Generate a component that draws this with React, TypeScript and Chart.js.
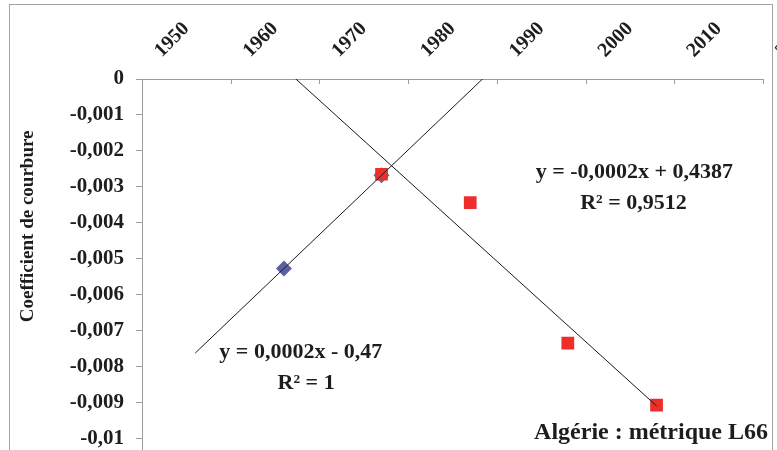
import React, { useEffect, useRef } from 'react';
import { Chart, registerables } from 'chart.js';

Chart.register(...registerables);

// ---- data ----
const X_TICKS = [1950, 1960, 1970, 1980, 1990, 2000, 2010, 2020];
const Y_MIN = -0.011;
const Y_MAX = 0;
const Y_STEP = 0.001;

const BLUE_YEARS = [1966, 1977];
const BLUE_VALUES = [-0.00527, -0.00268];
const RED_YEARS = [1977, 1987, 1998, 2008];
const RED_VALUES = [-0.00265, -0.00344, -0.00735, -0.00907];

const BLUE_TREND_SPAN = [1956, 1992];
const RED_TREND_SPAN = [1960, 2008];

const ANNOTATION_TEXTS = ['y = 0,0002x - 0,47', 'R² = 1', 'y = -0,0002x + 0,4387', 'R² = 0,9512'];
const ANNOTATION_X = [1967.9, 1968.5, 2005.5, 2005.4];
const ANNOTATION_Y = [-0.00759, -0.00846, -0.00259, -0.00345];

const Y_TITLE = 'Coefficient de courbure';
const CAPTION = 'Algérie : métrique L66';

// ---- styles ----
const TEXT_COLOR = '#1d1d1b';
const AXIS_COLOR = '#9c9c9c';
const BLUE = '#5b5fa3';
const RED = '#ee2e2b';
const FONT_FAMILY = '"Liberation Serif", "Times New Roman", serif';

function linearFit(xs: number[], ys: number[]) {
  const n = xs.length;
  const mx = xs.reduce((a, b) => a + b, 0) / n;
  const my = ys.reduce((a, b) => a + b, 0) / n;
  let sxy = 0;
  let sxx = 0;
  for (let i = 0; i < n; i++) {
    sxy += (xs[i] - mx) * (ys[i] - my);
    sxx += (xs[i] - mx) * (xs[i] - mx);
  }
  const slope = sxy / sxx;
  return { slope, intercept: my - slope * mx };
}

function trendPoints(xs: number[], ys: number[], span: number[]) {
  const { slope, intercept } = linearFit(xs, ys);
  return span.map((x) => ({ x, y: slope * x + intercept }));
}

function fmtY(v: number) {
  const r = Number(v.toFixed(4));
  if (r === 0) return '0';
  return String(r).replace('.', ',');
}

const overlayPlugin = {
  id: 'overlay',
  afterDraw(chart: any) {
    const { ctx, chartArea, scales } = chart;
    const xs = scales.x;
    const ys = scales.y;
    ctx.save();

    // inward tick marks of top axis
    ctx.strokeStyle = AXIS_COLOR;
    ctx.lineWidth = 1;
    X_TICKS.forEach((v) => {
      const px = Math.round(xs.getPixelForValue(v)) + 0.5;
      ctx.beginPath();
      ctx.moveTo(px, chartArea.top);
      ctx.lineTo(px, chartArea.top + 5);
      ctx.stroke();
    });

    // rotated x labels
    ctx.fillStyle = TEXT_COLOR;
    ctx.font = `bold 20px ${FONT_FAMILY}`;
    ctx.textAlign = 'left';
    ctx.textBaseline = 'middle';
    X_TICKS.forEach((v) => {
      const px = xs.getPixelForValue(v);
      ctx.save();
      ctx.translate(px + 16, chartArea.top - 25);
      ctx.rotate(-Math.PI / 4);
      ctx.fillText(String(v), 0, 0);
      ctx.restore();
    });

    // y title
    ctx.save();
    ctx.font = `bold 19px ${FONT_FAMILY}`;
    ctx.textAlign = 'center';
    ctx.textBaseline = 'middle';
    ctx.translate(28, ys.getPixelForValue(-0.0041));
    ctx.rotate(-Math.PI / 2);
    ctx.fillText(Y_TITLE, 0, 0);
    ctx.restore();

    // trendline equations
    ctx.font = `bold 22px ${FONT_FAMILY}`;
    ctx.textAlign = 'center';
    ctx.textBaseline = 'middle';
    ANNOTATION_TEXTS.forEach((t, i) => {
      ctx.fillText(t, xs.getPixelForValue(ANNOTATION_X[i]), ys.getPixelForValue(ANNOTATION_Y[i]));
    });

    // caption
    ctx.font = `bold 24px ${FONT_FAMILY}`;
    ctx.textAlign = 'right';
    ctx.fillText(CAPTION, chart.width - 9, ys.getPixelForValue(-0.00985));

    ctx.restore();
  },
};

export default function App() {
  const canvasRef = useRef<HTMLCanvasElement | null>(null);

  useEffect(() => {
    if (!canvasRef.current) return;
    const chart = new Chart(canvasRef.current, {
      type: 'scatter',
      data: {
        datasets: [
          {
            label: 'Tendance 1',
            data: trendPoints(BLUE_YEARS, BLUE_VALUES, BLUE_TREND_SPAN),
            showLine: true,
            borderColor: '#1a1a1a',
            borderWidth: 1,
            pointRadius: 0,
            order: 0,
          },
          {
            label: 'Tendance 2',
            data: trendPoints(RED_YEARS, RED_VALUES, RED_TREND_SPAN),
            showLine: true,
            borderColor: '#1a1a1a',
            borderWidth: 1,
            pointRadius: 0,
            order: 0,
          },
          {
            label: 'Série 2',
            data: RED_YEARS.map((x, i) => ({ x, y: RED_VALUES[i] })),
            pointStyle: 'rect',
            pointRadius: 9,
            backgroundColor: RED,
            borderColor: RED,
            borderWidth: 0,
            order: 1,
          },
          {
            label: 'Série 1',
            data: BLUE_YEARS.map((x, i) => ({ x, y: BLUE_VALUES[i] })),
            pointStyle: 'rectRot',
            pointRadius: 8,
            backgroundColor: BLUE,
            borderColor: BLUE,
            borderWidth: 0,
            order: 2,
          },
        ],
      },
      options: {
        animation: false,
        responsive: true,
        maintainAspectRatio: false,
        devicePixelRatio: 1,
        layout: { padding: { left: 0, right: 14, top: 0, bottom: 7 } },
        plugins: {
          legend: { display: false },
          tooltip: { enabled: false },
        },
        scales: {
          x: {
            type: 'linear',
            position: 'top',
            min: X_TICKS[0],
            max: X_TICKS[X_TICKS.length - 1],
            ticks: { display: false, stepSize: 10 },
            grid: { display: true, drawOnChartArea: false, drawTicks: false },
            border: { display: true, color: AXIS_COLOR, width: 1 },
            afterFit: (scale: any) => {
              scale.height = 79;
            },
          },
          y: {
            type: 'linear',
            position: 'left',
            min: Y_MIN,
            max: Y_MAX,
            ticks: {
              stepSize: Y_STEP,
              padding: 12,
              color: TEXT_COLOR,
              font: { family: FONT_FAMILY, size: 21, weight: 'bold' },
              callback: (v: any) => fmtY(Number(v)),
            },
            grid: { display: true, drawOnChartArea: false, drawTicks: true, tickLength: 6, color: AXIS_COLOR },
            border: { display: true, color: AXIS_COLOR, width: 1 },
            afterFit: (scale: any) => {
              scale.width = 142;
            },
          },
        },
      },
      plugins: [overlayPlugin],
    } as any);
    return () => chart.destroy();
  }, []);

  return (
    <div style={{ position: 'absolute', left: 0, top: 0, width: 777, height: 450, overflow: 'hidden', background: '#fff' }}>
      <div
        style={{
          position: 'absolute',
          left: 9,
          top: 4,
          width: 764,
          height: 540,
          border: '1px solid #a3a3a3',
          boxSizing: 'border-box',
        }}
      />
      <div style={{ position: 'absolute', left: 0, top: 0, width: 777, height: 499 }}>
        <canvas ref={canvasRef} />
      </div>
    </div>
  );
}
